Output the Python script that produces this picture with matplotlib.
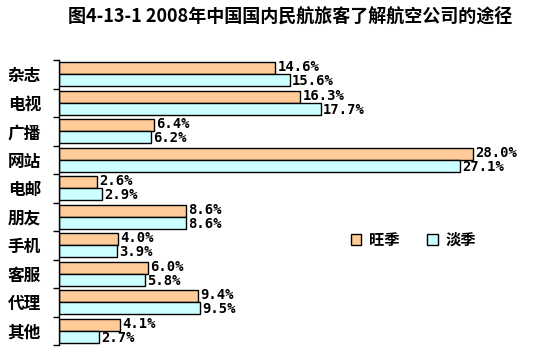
import numpy as np
import matplotlib
matplotlib.use("Agg")
import matplotlib.pyplot as plt

plt.rcParams['font.family'] = ['Noto Sans CJK SC', 'DejaVu Sans']

# data (%)
categories = ['杂志', '电视', '广播', '网站', '电邮', '朋友', '手机', '客服', '代理', '其他']
peak = [14.6, 16.3, 6.4, 28.0, 2.6, 8.6, 4.0, 6.0, 9.4, 4.1]
off_peak = [15.6, 17.7, 6.2, 27.1, 2.9, 8.6, 3.9, 5.8, 9.5, 2.7]
series_names = ['旺季', '淡季']

fig = plt.figure(figsize=(5.4, 3.52), dpi=100)
ax = fig.add_axes([59 / 540, 1 - 345 / 352, 1 - 59 / 540, 285 / 352])

y = np.arange(len(categories)) + 0.5
h = 0.42
b1 = ax.barh(y - 0.21, peak, height=h, color='#FFCC99', edgecolor='black', linewidth=1.0, label=series_names[0])
b2 = ax.barh(y + 0.21, off_peak, height=h, color='#CCFFFF', edgecolor='black', linewidth=1.0, label=series_names[1])

for yy, v in zip(y - 0.21, peak):
    ax.text(v + 0.15, yy - 0.03, f'{v:.1f}%', va='center', ha='left',
            fontsize=10, fontweight='bold', family='DejaVu Sans Mono')
for yy, v in zip(y + 0.21, off_peak):
    ax.text(v + 0.15, yy + 0.03, f'{v:.1f}%', va='center', ha='left',
            fontsize=10, fontweight='bold', family='DejaVu Sans Mono')

ax.set_xlim(0, (540 - 59) / 14.8)
ax.set_ylim(len(categories), 0)
ax.set_yticks(y)
ax.set_yticklabels(categories, fontsize=12, fontweight='bold')
ax.tick_params(axis='y', which='major', length=0, pad=13)
ax.set_yticks(np.arange(len(categories) + 1), minor=True)
ax.tick_params(axis='y', which='minor', length=4, width=1, direction='out')
ax.set_xticks([])
for s in ['top', 'right', 'bottom']:
    ax.spines[s].set_visible(False)
ax.spines['left'].set_linewidth(1.0)

ax.legend(loc='center left', bbox_to_anchor=(278 / 481, 1 - 180 / 285), ncol=2,
          frameon=False, prop={'weight': 'bold', 'size': 11},
          handlelength=0.7, handleheight=0.7, columnspacing=1.8, handletextpad=0.5)

fig.text(0.538, 1 - 17 / 352, '图4-13-1 2008年中国国内民航旅客了解航空公司的途径',
         ha='center', va='center', fontsize=13, fontweight='bold')

fig.savefig('out.png', dpi=100)
